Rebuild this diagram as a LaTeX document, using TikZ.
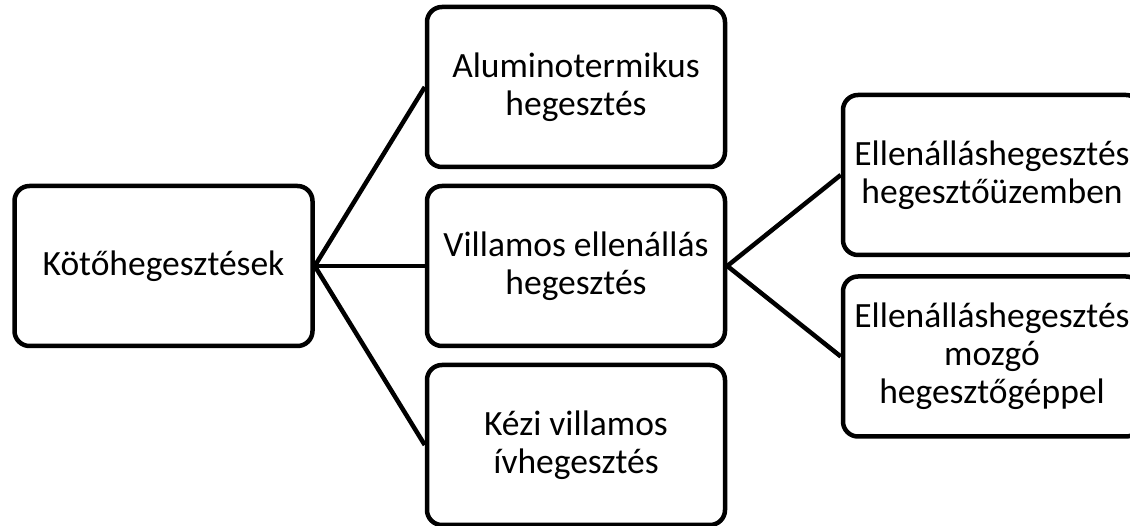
\documentclass[tikz,border=0pt]{standalone}
\usepackage{fontspec}
\setmainfont{Carlito}
\begin{document}
\begin{tikzpicture}[x=1pt,y=1pt,
  box/.style={draw=black, line width=4.5pt, rounded corners=15pt, fill=white,
    minimum width=298pt, minimum height=160pt, align=center, inner sep=0pt,
    font=\fontsize{35.5}{38}\selectfont},
  conn/.style={draw=black, line width=4.5pt}]
\useasboundingbox (0,0) rectangle (1130,526);
\node[box] (root) at (163.5,260) {Kötőhegesztések};
\node[box] (alum) at (576,439) {Aluminotermikus\\hegesztés};
\node[box] (vill) at (576,260) {Villamos ellenállás\\hegesztés};
\node[box] (kezi) at (576,81) {Kézi villamos\\ívhegesztés};
\node[box] (e1) at (992,351) {Ellenálláshegesztés\\hegesztőüzemben};
\node[box] (e2) at (992,169.5) {Ellenálláshegesztés\\mozgó\\hegesztőgéppel};
\draw[conn] (root.east) -- (alum.west);
\draw[conn] (root.east) -- (vill.west);
\draw[conn] (root.east) -- (kezi.west);
\draw[conn] (vill.east) -- (e1.west);
\draw[conn] (vill.east) -- (e2.west);
\end{tikzpicture}
\end{document}
